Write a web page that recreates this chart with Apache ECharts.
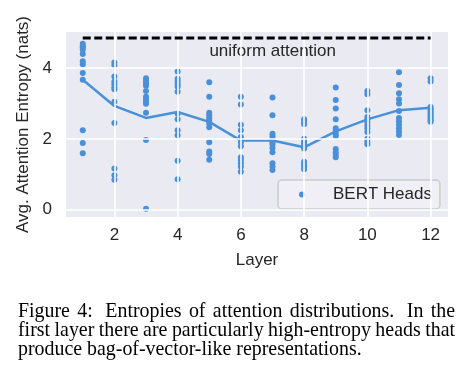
<!DOCTYPE html>
<html>
<head>
<meta charset="utf-8">
<script src="https://cdn.jsdelivr.net/npm/echarts@6/dist/echarts.min.js"></script>
<style>
html,body{margin:0;padding:0;background:#fff;}
#c{width:472px;height:386px;}
</style>
</head>
<body>
<div id="c"></div>
<script>
// ---- data ----
const layers = [1,2,3,4,5,6,7,8,9,10,11,12];
const headEntropy = [
  [4.69,4.62,4.58,4.52,4.40,4.19,4.11,3.86,3.67,2.24,1.88,1.59],
  [4.16,4.08,3.76,3.62,3.54,3.46,3.40,3.05,2.45,1.16,0.97,0.84],
  [3.71,3.64,3.57,3.50,3.35,3.19,3.11,3.05,2.99,2.74,1.97,0.02],
  [3.90,3.70,3.62,3.54,3.47,3.33,2.71,2.55,2.24,2.10,1.38,0.86],
  [3.60,3.19,2.74,2.67,2.59,2.52,2.43,2.33,1.90,1.64,1.57,1.41],
  [3.19,2.97,2.40,2.24,2.05,1.90,1.79,1.48,1.40,1.31,1.21,1.07],
  [3.17,2.67,2.14,2.07,1.98,1.90,1.84,1.74,1.62,1.31,1.22,1.12],
  [2.55,2.48,2.41,2.00,1.92,1.86,1.79,1.73,1.35,1.29,1.22,1.14],
  [3.45,3.10,2.86,2.55,2.30,2.23,2.14,2.08,1.71,1.62,1.54,1.48],
  [3.35,3.26,2.81,2.62,2.54,2.47,2.38,2.29,2.19,2.00,1.92,1.85],
  [3.88,3.52,3.29,3.12,3.00,2.79,2.59,2.50,2.40,2.30,2.21,2.11],
  [3.71,3.62,2.90,2.86,2.81,2.76,2.71,2.67,2.62,2.57,2.52,2.48]
];
const meanEntropy = [3.67,2.93,2.59,2.76,2.48,1.95,1.95,1.76,2.21,2.55,2.81,2.88];
const uniformEntropy = 4.85;
const xTicks = [2,4,6,8,10,12];
const yTicks = [0,2,4];
const seriesName = 'BERT Heads';
const uniformLabel = 'uniform attention';
const xTitle = 'Layer';
const yTitle = 'Avg. Attention Entropy (nats)';
const captionLines = [
  'Figure 4: Entropies of attention distributions. In the',
  'first layer there are particularly high-entropy heads that',
  'produce bag-of-vector-like representations.'
];

// ---- build ----
const SANS = '"Liberation Sans", Arial, sans-serif';
const SERIF = '"Liberation Serif", "Times New Roman", serif';
const BLUE = '#4a90d9';
const TXT = '#262626';

const scatterData = [];
layers.forEach((l, i) => headEntropy[i].forEach(v => scatterData.push([l, v])));
const meanData = layers.map((l, i) => [l, meanEntropy[i]]);
const uniformData = [[layers[0], uniformEntropy], [layers[layers.length-1], uniformEntropy]];

const chart = echarts.init(document.getElementById('c'), null, {renderer: 'canvas'});

// caption, justified
const capFont = 19.9;
const cv = document.createElement('canvas').getContext('2d');
cv.font = capFont + 'px ' + SERIF;
const capLeft = 18, capRight = 455;
const capBase = [316.2, 335.5, 354.3];
const capShift = capFont*0.89 - 3;
const graphics = [];
captionLines.forEach((line, li) => {
  const words = line.split(' ');
  const y = capBase[li];
  if (li === captionLines.length - 1) {
    graphics.push({type:'text', x: capLeft, y: y - capShift, silent:true,
      style:{text: line, font: capFont + 'px ' + SERIF, fill:'#000'}});
    return;
  }
  const widths = words.map(w => cv.measureText(w).width);
  const total = widths.reduce((a,b)=>a+b,0);
  const weights = words.slice(0,-1).map(w => /[.:]$/.test(w) ? 1.7 : 1);
  const wsum = weights.reduce((a,b)=>a+b,0);
  const unit = (capRight - capLeft - total) / wsum;
  let x = capLeft;
  words.forEach((w, wi) => {
    graphics.push({type:'text', x: x, y: y - capShift, silent:true,
      style:{text: w, font: capFont + 'px ' + SERIF, fill:'#000'}});
    x += widths[wi] + (wi < weights.length ? weights[wi]*unit : 0);
  });
});
graphics.push({type:'text', x: 272.7, y: 51, silent:true,
  style:{text: uniformLabel, font: '17px ' + SANS, fill: TXT, textAlign:'center', textVerticalAlign:'middle'}});

const option = {
  animation: false,
  backgroundColor: '#ffffff',
  grid: {left: 66, top: 32, width: 382, height: 185, show: true, backgroundColor: '#eaeaf2', borderWidth: 0},
  xAxis: {
    type: 'value', min: 0.47, max: 12.55,
    axisLine: {show:false}, axisTick: {show:false}, splitLine: {show:false},
    axisLabel: {customValues: xTicks, fontSize: 17, color: TXT, fontFamily: SANS, margin: 10},
    name: xTitle, nameLocation: 'middle', nameGap: 35,
    nameTextStyle: {fontSize: 17, color: TXT, fontFamily: SANS}
  },
  yAxis: {
    type: 'value', min: -0.21, max: 5.02,
    axisLine: {show:false}, axisTick: {show:false}, splitLine: {show:false},
    axisLabel: {customValues: yTicks, fontSize: 17, color: TXT, fontFamily: SANS, margin: 14},
    name: yTitle, nameLocation: 'middle', nameGap: 28.5, nameRotate: 90,
    nameTextStyle: {fontSize: 17, color: TXT, fontFamily: SANS}
  },
  legend: {
    data: [seriesName], left: 278, top: 180,
    padding: [6, 8, 6, 21], itemWidth: 6, itemHeight: 6, icon: 'circle',
    backgroundColor: 'rgba(255,255,255,0.25)', borderColor: '#cccccc', borderWidth: 1.5, borderRadius: 4,
    textStyle: {fontSize: 17, color: TXT, fontFamily: SANS, padding: [0,0,0,23]},
    selectedMode: false
  },
  graphic: graphics,
  series: [
    {
      type: 'line', name: 'grid', data: [], z: 1, silent: true,
      markLine: {
        silent: true, symbol: 'none', animation: false,
        label: {show: false},
        lineStyle: {color: '#ffffff', width: 1.6, type: 'solid'},
        data: yTicks.map(v => ({yAxis: v})).concat(xTicks.map(v => ({xAxis: v})))
      }
    },
    {
      type: 'line', name: 'mean', data: meanData, z: 3, symbol: 'none',
      lineStyle: {color: BLUE, width: 2.5}, silent: true
    },
    {
      type: 'scatter', name: seriesName, data: scatterData, z: 4,
      symbol: 'circle', symbolSize: 6, itemStyle: {color: BLUE, opacity: 1}
    },
    {
      type: 'line', name: 'uniform', data: uniformData, z: 5, symbol: 'none', silent: true,
      lineStyle: {color: '#000000', width: 3, type: [8, 3.5]}
    }
  ]
};
chart.setOption(option);
</script>
</body>
</html>
